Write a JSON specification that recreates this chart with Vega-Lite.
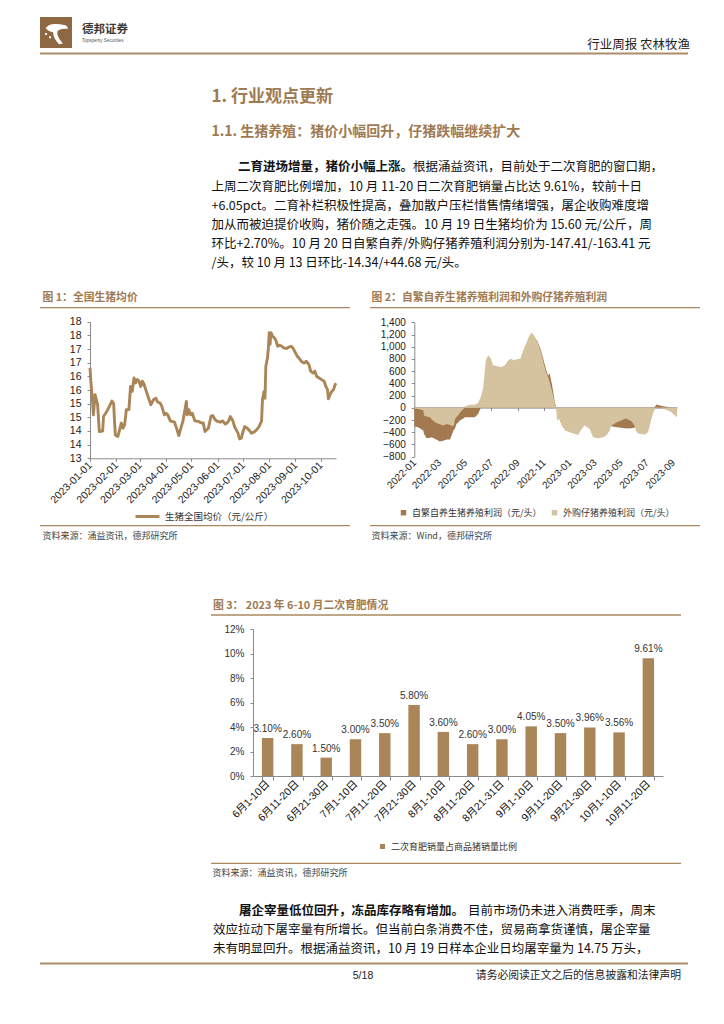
{
"$schema":"https://vega.github.io/schema/vega-lite/v6.json",
"width":724,"height":1024,"padding":0,"autosize":{"type":"none"},
"background":"#ffffff",
"config":{
 "view":{"stroke":null},
 "axis":{"grid":false,"domainColor":"#8a8a8a","tickColor":"#8a8a8a","labelColor":"#222222","labelFont":"Liberation Sans","labelFontSize":10,"tickSize":3},
 "legend":{"labelFont":"Noto Sans CJK SC","labelFontSize":9,"labelColor":"#333333","padding":0},
 "text":{"font":"Noto Sans CJK SC"}
},
"layer":[
 {"data":{"values":[{"k":"logo"}]},"mark":{"type":"rect","color":"#8E6843"},
  "encoding":{"x":{"datum":0,"type":"quantitative","scale":{"domain":[0,1],"range":[40,72]},"axis":null},"x2":{"datum":1},
   "y":{"datum":0,"type":"quantitative","scale":{"domain":[0,1],"range":[17,48]},"axis":null},"y2":{"datum":1}}},
 {"data":{"values":[{"k":"logo"}]},"mark":{"type":"point","filled":true,"color":"#ffffff","opacity":1,"size":700,"shape":"M-0.85,-0.35 C-0.7,-0.7 -0.1,-0.75 0.55,-0.6 C0.75,-0.55 0.85,-0.45 0.8,-0.3 C0.5,-0.35 0.2,-0.3 0.05,-0.15 C-0.05,0.05 0.1,0.4 0.45,0.8 L0.15,0.85 C-0.15,0.55 -0.3,0.2 -0.3,-0.05 C-0.5,-0.1 -0.7,-0.15 -0.85,-0.35 Z M-0.9,0.0 L-0.75,0.0 L-0.75,0.15 L-0.9,0.15 Z M-0.6,0.25 L-0.45,0.25 L-0.45,0.4 L-0.6,0.4 Z"},
  "encoding":{"x":{"datum":0,"type":"quantitative","scale":{"domain":[0,1],"range":[57,58]},"axis":null},
   "y":{"datum":0,"type":"quantitative","scale":{"domain":[0,1],"range":[33,34]},"axis":null}}},
 {"data":{"values":[{"t":"德邦证券"}]},"mark":{"type":"text","align":"left","baseline":"middle","fontSize":11.5,"fontWeight":"bold","color":"#3a3a3a"},
  "encoding":{"text":{"field":"t"},"x":{"datum":0,"type":"quantitative","scale":{"domain":[0,1],"range":[82,83]},"axis":null},
   "y":{"datum":0,"type":"quantitative","scale":{"domain":[0,1],"range":[30,31]},"axis":null}}},
 {"data":{"values":[{"t":"Topsperity Securities"}]},"mark":{"type":"text","align":"left","baseline":"middle","fontSize":4.5,"font":"Liberation Sans","color":"#555555"},
  "encoding":{"text":{"field":"t"},"x":{"datum":0,"type":"quantitative","scale":{"domain":[0,1],"range":[82,83]},"axis":null},
   "y":{"datum":0,"type":"quantitative","scale":{"domain":[0,1],"range":[40.5,41.5]},"axis":null}}},
 {"data":{"values":[{"t":"行业周报  农林牧渔"}]},"mark":{"type":"text","align":"right","baseline":"middle","fontSize":12.5,"color":"#222222"},
  "encoding":{"text":{"field":"t"},"x":{"datum":0,"type":"quantitative","scale":{"domain":[0,1],"range":[690,691]},"axis":null},
   "y":{"datum":0,"type":"quantitative","scale":{"domain":[0,1],"range":[45,46]},"axis":null}}},
 {"data":{"values":[{"edge":"header"},{"edge":"footer"}]},"mark":{"type":"rule","color":"#AD8C68","strokeWidth":2},
  "encoding":{"x":{"datum":0,"type":"quantitative","scale":{"domain":[0,1],"range":[40,688]},"axis":null},"x2":{"datum":1},
   "y":{"field":"edge","type":"ordinal","sort":null,"scale":{"type":"point","range":[53.5,963.5],"padding":0},"axis":null}}},
 {"data":{"values":[{"t":"1. 行业观点更新"}]},"mark":{"type":"text","align":"left","baseline":"middle","fontSize":17,"fontWeight":"bold","color":"#A07A52"},
  "encoding":{"text":{"field":"t"},"x":{"datum":0,"type":"quantitative","scale":{"domain":[0,1],"range":[211.5,212.5]},"axis":null},
   "y":{"datum":0,"type":"quantitative","scale":{"domain":[0,1],"range":[96.5,97.5]},"axis":null}}},
 {"data":{"values":[{"t":"1.1. 生猪养殖：猪价小幅回升，仔猪跌幅继续扩大"}]},"mark":{"type":"text","align":"left","baseline":"middle","fontSize":14,"fontWeight":"bold","color":"#A07A52"},
  "encoding":{"text":{"field":"t"},"x":{"datum":0,"type":"quantitative","scale":{"domain":[0,1],"range":[211.5,212.5]},"axis":null},
   "y":{"datum":0,"type":"quantitative","scale":{"domain":[0,1],"range":[131.5,132.5]},"axis":null}}},
 {"data":{"values":[{"t":"二育进场增量，猪价小幅上涨。"}]},"mark":{"type":"text","align":"left","baseline":"middle","fontSize":12.5,"fontWeight":"bold","color":"#111111"},
  "encoding":{"text":{"field":"t"},"x":{"datum":0,"type":"quantitative","scale":{"domain":[0,1],"range":[238,239]},"axis":null},
   "y":{"datum":0,"type":"quantitative","scale":{"domain":[0,1],"range":[167.3,168.3]},"axis":null}}},
 {"data":{"values":[{"t":"根据涌益资讯，目前处于二次育肥的窗口期，"}]},"mark":{"type":"text","align":"left","baseline":"middle","fontSize":12.5,"color":"#111111"},
  "encoding":{"text":{"field":"t"},"x":{"datum":0,"type":"quantitative","scale":{"domain":[0,1],"range":[413,414]},"axis":null},
   "y":{"datum":0,"type":"quantitative","scale":{"domain":[0,1],"range":[167.3,168.3]},"axis":null}}},
 {"data":{"values":[
   {"line":2,"t":"上周二次育肥比例增加，10 月 11-20 日二次育肥销量占比达 9.61%，较前十日"},
   {"line":3,"t":"+6.05pct。二育补栏积极性提高，叠加散户压栏惜售情绪增强，屠企收购难度增"},
   {"line":4,"t":"加从而被迫提价收购，猪价随之走强。10 月 19 日生猪均价为 15.60 元/公斤，周"},
   {"line":5,"t":"环比+2.70%。10 月 20 日自繁自养/外购仔猪养殖利润分别为-147.41/-163.41 元"},
   {"line":6,"t":"/头，较 10 月 13 日环比-14.34/+44.68 元/头。"}]},
  "mark":{"type":"text","align":"left","baseline":"middle","fontSize":12.5,"color":"#111111"},
  "encoding":{"text":{"field":"t"},"x":{"datum":0,"type":"quantitative","scale":{"domain":[0,1],"range":[211.5,212.5]},"axis":null},
   "y":{"field":"line","type":"ordinal","scale":{"type":"point","range":[186.7,263.3],"padding":0},"axis":null}}},
 {"data":{"values":[{"t":"图 1：全国生猪均价"}]},"mark":{"type":"text","align":"left","baseline":"middle","fontSize":10.8,"fontWeight":"bold","color":"#A07A52"},
  "encoding":{"text":{"field":"t"},"x":{"datum":0,"type":"quantitative","scale":{"domain":[0,1],"range":[42.5,43.5]},"axis":null},
   "y":{"datum":0,"type":"quantitative","scale":{"domain":[0,1],"range":[297.5,298.5]},"axis":null}}},
 {"data":{"values":[{"edge":"top"},{"edge":"bottom"}]},"mark":{"type":"rule","color":"#A8885F","strokeWidth":1.3},
  "encoding":{"x":{"datum":0,"type":"quantitative","scale":{"domain":[0,1],"range":[40,350]},"axis":null},"x2":{"datum":1},
   "y":{"field":"edge","type":"ordinal","sort":null,"scale":{"type":"point","range":[307.7,525.7],"padding":0},"axis":null}}},
 {"data":{"values":[{"t":"资料来源：涌益资讯，德邦研究所"}]},"mark":{"type":"text","align":"left","baseline":"middle","fontSize":9,"color":"#444444"},
  "encoding":{"text":{"field":"t"},"x":{"datum":0,"type":"quantitative","scale":{"domain":[0,1],"range":[42.5,43.5]},"axis":null},
   "y":{"datum":0,"type":"quantitative","scale":{"domain":[0,1],"range":[535.7,536.7]},"axis":null}}},
 {"data":{"values":[{"t":"图 2：自繁自养生猪养殖利润和外购仔猪养殖利润"}]},"mark":{"type":"text","align":"left","baseline":"middle","fontSize":10.8,"fontWeight":"bold","color":"#A07A52"},
  "encoding":{"text":{"field":"t"},"x":{"datum":0,"type":"quantitative","scale":{"domain":[0,1],"range":[371.5,372.5]},"axis":null},
   "y":{"datum":0,"type":"quantitative","scale":{"domain":[0,1],"range":[297.5,298.5]},"axis":null}}},
 {"data":{"values":[{"edge":"top"},{"edge":"bottom"}]},"mark":{"type":"rule","color":"#A8885F","strokeWidth":1.3},
  "encoding":{"x":{"datum":0,"type":"quantitative","scale":{"domain":[0,1],"range":[370,700]},"axis":null},"x2":{"datum":1},
   "y":{"field":"edge","type":"ordinal","sort":null,"scale":{"type":"point","range":[307.7,525.7],"padding":0},"axis":null}}},
 {"data":{"values":[{"t":"资料来源：Wind，德邦研究所"}]},"mark":{"type":"text","align":"left","baseline":"middle","fontSize":9,"color":"#444444"},
  "encoding":{"text":{"field":"t"},"x":{"datum":0,"type":"quantitative","scale":{"domain":[0,1],"range":[371.5,372.5]},"axis":null},
   "y":{"datum":0,"type":"quantitative","scale":{"domain":[0,1],"range":[535.7,536.7]},"axis":null}}},
 {"data":{"values":[{"t":"图 3：  2023 年 6-10 月二次育肥情况"}]},"mark":{"type":"text","align":"left","baseline":"middle","fontSize":10.8,"fontWeight":"bold","color":"#A07A52"},
  "encoding":{"text":{"field":"t"},"x":{"datum":0,"type":"quantitative","scale":{"domain":[0,1],"range":[213,214]},"axis":null},
   "y":{"datum":0,"type":"quantitative","scale":{"domain":[0,1],"range":[605.5,606.5]},"axis":null}}},
 {"data":{"values":[{"edge":"top"},{"edge":"bottom"}]},"mark":{"type":"rule","color":"#A8885F","strokeWidth":1.3},
  "encoding":{"x":{"datum":0,"type":"quantitative","scale":{"domain":[0,1],"range":[211,681]},"axis":null},"x2":{"datum":1},
   "y":{"field":"edge","type":"ordinal","sort":null,"scale":{"type":"point","range":[615,863.3],"padding":0},"axis":null}}},
 {"data":{"values":[{"t":"资料来源：涌益资讯，德邦研究所"}]},"mark":{"type":"text","align":"left","baseline":"middle","fontSize":9,"color":"#444444"},
  "encoding":{"text":{"field":"t"},"x":{"datum":0,"type":"quantitative","scale":{"domain":[0,1],"range":[212.5,213.5]},"axis":null},
   "y":{"datum":0,"type":"quantitative","scale":{"domain":[0,1],"range":[873.3,874.3]},"axis":null}}},
 {"data":{"values":[{"t":"屠企宰量低位回升，冻品库存略有增加。"}]},"mark":{"type":"text","align":"left","baseline":"middle","fontSize":12.5,"fontWeight":"bold","color":"#111111"},
  "encoding":{"text":{"field":"t"},"x":{"datum":0,"type":"quantitative","scale":{"domain":[0,1],"range":[239,240]},"axis":null},
   "y":{"datum":0,"type":"quantitative","scale":{"domain":[0,1],"range":[910.7,911.7]},"axis":null}}},
 {"data":{"values":[{"t":"目前市场仍未进入消费旺季，周末"}]},"mark":{"type":"text","align":"left","baseline":"middle","fontSize":12.5,"color":"#111111"},
  "encoding":{"text":{"field":"t"},"x":{"datum":0,"type":"quantitative","scale":{"domain":[0,1],"range":[468,469]},"axis":null},
   "y":{"datum":0,"type":"quantitative","scale":{"domain":[0,1],"range":[910.7,911.7]},"axis":null}}},
 {"data":{"values":[
   {"line":2,"t":"效应拉动下屠宰量有所增长。但当前白条消费不佳，贸易商拿货谨慎，屠企宰量"},
   {"line":3,"t":"未有明显回升。根据涌益资讯，10 月 19 日样本企业日均屠宰量为 14.75 万头，"}]},
  "mark":{"type":"text","align":"left","baseline":"middle","fontSize":12.5,"color":"#111111"},
  "encoding":{"text":{"field":"t"},"x":{"datum":0,"type":"quantitative","scale":{"domain":[0,1],"range":[213,214]},"axis":null},
   "y":{"field":"line","type":"ordinal","scale":{"type":"point","range":[930,949.3],"padding":0},"axis":null}}},
 {"data":{"values":[{"t":"5/18"}]},"mark":{"type":"text","align":"center","baseline":"middle","fontSize":10.5,"font":"Liberation Sans","color":"#222222"},
  "encoding":{"text":{"field":"t"},"x":{"datum":0,"type":"quantitative","scale":{"domain":[0,1],"range":[363,364]},"axis":null},
   "y":{"datum":0,"type":"quantitative","scale":{"domain":[0,1],"range":[975.7,976.7]},"axis":null}}},
 {"data":{"values":[{"t":"请务必阅读正文之后的信息披露和法律声明"}]},"mark":{"type":"text","align":"right","baseline":"middle","fontSize":10.8,"color":"#222222"},
  "encoding":{"text":{"field":"t"},"x":{"datum":0,"type":"quantitative","scale":{"domain":[0,1],"range":[681,682]},"axis":null},
   "y":{"datum":0,"type":"quantitative","scale":{"domain":[0,1],"range":[975.7,976.7]},"axis":null}}},
 {"data":{"values":[
  {"date":"2023-01-01","price":16.31},{"date":"2023-01-02","price":15.82},{"date":"2023-01-04","price":15.08},{"date":"2023-01-05","price":14.59},
  {"date":"2023-01-07","price":15.33},{"date":"2023-01-08","price":15.2},{"date":"2023-01-10","price":14.96},{"date":"2023-01-12","price":13.98},
  {"date":"2023-01-16","price":14.0},{"date":"2023-01-17","price":14.53},{"date":"2023-01-21","price":14.72},{"date":"2023-01-27","price":15.1},
  {"date":"2023-01-29","price":15.0},{"date":"2023-01-30","price":14.35},{"date":"2023-01-31","price":13.86},{"date":"2023-02-01","price":13.83},
  {"date":"2023-02-03","price":13.8},{"date":"2023-02-05","price":14.04},{"date":"2023-02-07","price":14.29},{"date":"2023-02-09","price":14.1},
  {"date":"2023-02-11","price":14.23},{"date":"2023-02-13","price":14.78},{"date":"2023-02-16","price":14.78},{"date":"2023-02-18","price":15.63},
  {"date":"2023-02-20","price":15.45},{"date":"2023-02-22","price":15.94},{"date":"2023-02-24","price":15.76},{"date":"2023-02-26","price":15.88},
  {"date":"2023-02-28","price":15.82},{"date":"2023-03-02","price":15.63},{"date":"2023-03-04","price":15.82},{"date":"2023-03-06","price":15.7},
  {"date":"2023-03-08","price":15.51},{"date":"2023-03-11","price":15.23},{"date":"2023-03-14","price":14.96},{"date":"2023-03-17","price":15.14},
  {"date":"2023-03-20","price":15.2},{"date":"2023-03-22","price":15.06},{"date":"2023-03-25","price":15.02},{"date":"2023-03-27","price":14.9},
  {"date":"2023-03-30","price":14.59},{"date":"2023-04-01","price":14.65},{"date":"2023-04-03","price":14.59},{"date":"2023-04-06","price":14.37},
  {"date":"2023-04-08","price":14.35},{"date":"2023-04-11","price":14.32},{"date":"2023-04-14","price":14.04},{"date":"2023-04-16","price":13.83},
  {"date":"2023-04-19","price":14.16},{"date":"2023-04-21","price":14.37},{"date":"2023-04-23","price":14.72},{"date":"2023-04-25","price":15.08},
  {"date":"2023-04-26","price":14.59},{"date":"2023-04-28","price":14.78},{"date":"2023-04-30","price":14.59},{"date":"2023-05-02","price":14.65},
  {"date":"2023-05-05","price":14.37},{"date":"2023-05-09","price":14.35},{"date":"2023-05-13","price":14.29},{"date":"2023-05-15","price":14.29},
  {"date":"2023-05-17","price":13.98},{"date":"2023-05-21","price":14.1},{"date":"2023-05-22","price":14.23},{"date":"2023-05-24","price":14.53},
  {"date":"2023-05-26","price":14.57},{"date":"2023-05-29","price":14.41},{"date":"2023-06-01","price":14.35},{"date":"2023-06-04","price":14.32},
  {"date":"2023-06-07","price":14.37},{"date":"2023-06-10","price":14.25},{"date":"2023-06-12","price":14.29},{"date":"2023-06-14","price":14.37},
  {"date":"2023-06-16","price":14.53},{"date":"2023-06-19","price":14.37},{"date":"2023-06-21","price":14.16},{"date":"2023-06-23","price":14.04},
  {"date":"2023-06-25","price":13.92},{"date":"2023-06-27","price":13.71},{"date":"2023-06-29","price":13.74},{"date":"2023-07-01","price":13.98},
  {"date":"2023-07-03","price":14.16},{"date":"2023-07-06","price":14.1},{"date":"2023-07-08","price":14.04},{"date":"2023-07-11","price":13.92},
  {"date":"2023-07-14","price":13.96},{"date":"2023-07-17","price":14.04},{"date":"2023-07-20","price":14.16},{"date":"2023-07-23","price":14.37},
  {"date":"2023-07-24","price":15.14},{"date":"2023-07-26","price":15.45},{"date":"2023-07-27","price":15.2},{"date":"2023-07-28","price":16.37},
  {"date":"2023-07-30","price":16.68},{"date":"2023-07-31","price":17.04},{"date":"2023-08-01","price":17.6},{"date":"2023-08-02","price":17.17},
  {"date":"2023-08-03","price":17.6},{"date":"2023-08-05","price":17.47},{"date":"2023-08-07","price":17.41},{"date":"2023-08-09","price":17.31},
  {"date":"2023-08-11","price":17.1},{"date":"2023-08-13","price":17.14},{"date":"2023-08-16","price":17.1},{"date":"2023-08-18","price":17.04},
  {"date":"2023-08-22","price":17.02},{"date":"2023-08-24","price":17.07},{"date":"2023-08-27","price":17.1},{"date":"2023-08-29","price":17.04},
  {"date":"2023-08-31","price":16.92},{"date":"2023-09-03","price":16.74},{"date":"2023-09-05","price":16.68},{"date":"2023-09-08","price":16.55},
  {"date":"2023-09-11","price":16.49},{"date":"2023-09-14","price":16.55},{"date":"2023-09-17","price":16.43},{"date":"2023-09-19","price":16.19},
  {"date":"2023-09-22","price":16.12},{"date":"2023-09-24","price":16.19},{"date":"2023-09-26","price":16.0},{"date":"2023-09-29","price":15.94},
  {"date":"2023-10-02","price":15.88},{"date":"2023-10-05","price":15.82},{"date":"2023-10-07","price":15.63},{"date":"2023-10-09","price":15.51},
  {"date":"2023-10-10","price":15.18},{"date":"2023-10-12","price":15.33},{"date":"2023-10-14","price":15.45},{"date":"2023-10-16","price":15.51},
  {"date":"2023-10-18","price":15.7},{"date":"2023-10-19","price":15.75}]},
  "mark":{"type":"line","strokeWidth":2.9,"strokeJoin":"round"},
  "encoding":{
   "x":{"field":"date","type":"temporal","title":null,
    "scale":{"type":"utc","domain":[{"year":2023,"month":1,"date":1,"utc":true},{"year":2023,"month":10,"date":19,"utc":true}],"range":[90,336],"nice":false},
    "axis":{"orient":"bottom","offset":-565.7,"format":"%Y-%m-%d","labelAngle":-45,"labelAlign":"right","labelBaseline":"middle","labelPadding":2,"labelOverlap":false,"labelFontSize":10.5,
     "values":[{"year":2023,"month":1,"date":1,"utc":true},{"year":2023,"month":2,"date":1,"utc":true},{"year":2023,"month":3,"date":1,"utc":true},{"year":2023,"month":4,"date":1,"utc":true},{"year":2023,"month":5,"date":1,"utc":true},{"year":2023,"month":6,"date":1,"utc":true},{"year":2023,"month":7,"date":1,"utc":true},{"year":2023,"month":8,"date":1,"utc":true},{"year":2023,"month":9,"date":1,"utc":true},{"year":2023,"month":10,"date":1,"utc":true}]}},
   "y":{"field":"price","type":"quantitative","title":null,"scale":{"domain":[13,18],"range":[458.3,321.7],"nice":false,"zero":false},
    "axis":{"orient":"left","offset":-90,"values":[13,13.5,14,14.5,15,15.5,16,16.5,17,17.5,18],"format":".0f","labelFontSize":10.5,"labelPadding":6}},
   "color":{"datum":"生猪全国均价（元/公斤）","scale":{"range":["#A98557"]},
    "legend":{"title":null,"orient":"none","legendX":134,"legendY":503,"symbolType":"stroke","symbolSize":576,"symbolStrokeWidth":3,"labelOffset":4,"labelFontSize":9.5}}}},
 {"data":{"values":[
  {"date":"2022-01-01","self":-307,"bought":-10},{"date":"2022-01-10","self":-318,"bought":-20},{"date":"2022-01-22","self":-373,"bought":-40},
  {"date":"2022-01-24","self":-430,"bought":-126},{"date":"2022-01-30","self":-499,"bought":-140},{"date":"2022-02-07","self":-490,"bought":-153},
  {"date":"2022-02-11","self":-482,"bought":-190},{"date":"2022-02-19","self":-510,"bought":-236},{"date":"2022-02-27","self":-540,"bought":-263},
  {"date":"2022-03-02","self":-553,"bought":-270},{"date":"2022-03-10","self":-537,"bought":-290},{"date":"2022-03-18","self":-520,"bought":-263},
  {"date":"2022-03-26","self":-520,"bought":-280},{"date":"2022-04-03","self":-373,"bought":-300},{"date":"2022-04-07","self":-330,"bought":-180},
  {"date":"2022-04-10","self":-263,"bought":-150},{"date":"2022-04-14","self":-240,"bought":-120},{"date":"2022-04-18","self":-208,"bought":-80},
  {"date":"2022-04-27","self":-170,"bought":-16},{"date":"2022-04-30","self":-153,"bought":27},{"date":"2022-05-12","self":-153,"bought":49},
  {"date":"2022-05-23","self":-153,"bought":49},{"date":"2022-05-31","self":-99,"bought":82},{"date":"2022-06-06","self":0,"bought":175},
  {"date":"2022-06-12","self":200,"bought":340},{"date":"2022-06-18","self":650,"bought":778},{"date":"2022-06-24","self":780,"bought":860},
  {"date":"2022-06-30","self":740,"bought":805},{"date":"2022-07-05","self":640,"bought":696},{"date":"2022-07-13","self":630,"bought":685},
  {"date":"2022-07-25","self":610,"bought":668},{"date":"2022-08-02","self":640,"bought":696},{"date":"2022-08-10","self":720,"bought":778},
  {"date":"2022-08-16","self":750,"bought":805},{"date":"2022-08-22","self":720,"bought":778},{"date":"2022-08-30","self":740,"bought":794},
  {"date":"2022-09-07","self":750,"bought":805},{"date":"2022-09-11","self":840,"bought":888},{"date":"2022-09-19","self":980,"bought":1025},
  {"date":"2022-09-27","self":1120,"bought":1162},{"date":"2022-10-03","self":1200,"bought":1233},{"date":"2022-10-09","self":1170,"bought":1189},
  {"date":"2022-10-17","self":1090,"bought":1080},{"date":"2022-10-25","self":960,"bought":930},{"date":"2022-10-31","self":800,"bought":750},
  {"date":"2022-11-06","self":640,"bought":586},{"date":"2022-11-11","self":530,"bought":504},{"date":"2022-11-15","self":560,"bought":420},
  {"date":"2022-11-21","self":360,"bought":258},{"date":"2022-11-27","self":93,"bought":66},{"date":"2022-12-01","self":0,"bought":0},
  {"date":"2022-12-02","self":-100,"bought":-208},{"date":"2022-12-07","self":-150,"bought":-180},{"date":"2022-12-13","self":-200,"bought":-290},
  {"date":"2022-12-21","self":-250,"bought":-373},{"date":"2023-01-01","self":-280,"bought":-400},{"date":"2023-01-13","self":-300,"bought":-427},
  {"date":"2023-01-21","self":-300,"bought":-444},{"date":"2023-01-29","self":-260,"bought":-345},{"date":"2023-02-05","self":-220,"bought":-290},
  {"date":"2023-02-17","self":-260,"bought":-345},{"date":"2023-02-25","self":-330,"bought":-482},{"date":"2023-03-09","self":-350,"bought":-499},
  {"date":"2023-03-21","self":-340,"bought":-482},{"date":"2023-03-28","self":-330,"bought":-455},{"date":"2023-04-05","self":-310,"bought":-373},
  {"date":"2023-04-09","self":-300,"bought":-290},{"date":"2023-04-21","self":-318,"bought":-240},{"date":"2023-05-07","self":-330,"bought":-190},
  {"date":"2023-05-14","self":-338,"bought":-175},{"date":"2023-05-26","self":-335,"bought":-220},{"date":"2023-06-03","self":-320,"bought":-300},
  {"date":"2023-06-07","self":-310,"bought":-400},{"date":"2023-06-15","self":-300,"bought":-427},{"date":"2023-06-26","self":-290,"bought":-435},
  {"date":"2023-07-04","self":-250,"bought":-400},{"date":"2023-07-12","self":-120,"bought":-180},{"date":"2023-07-18","self":0,"bought":-44},
  {"date":"2023-07-24","self":55,"bought":10},{"date":"2023-08-01","self":40,"bought":0},{"date":"2023-08-08","self":25,"bought":-16},
  {"date":"2023-08-20","self":15,"bought":-44},{"date":"2023-08-28","self":-30,"bought":-71},{"date":"2023-09-05","self":-70,"bought":-126},
  {"date":"2023-09-10","self":-90,"bought":-153}]},
  "layer":[
   {"mark":{"type":"area"},
    "encoding":{
     "x":{"field":"date","type":"temporal","title":null,
      "scale":{"type":"utc","domain":[{"year":2022,"month":1,"date":1,"utc":true},{"year":2023,"month":9,"date":10,"utc":true}],"range":[414.3,677],"nice":false},
      "axis":{"orient":"bottom","offset":-616.5,"labels":false,"tickSize":3,"domainColor":"#777777",
       "values":[{"year":2022,"month":1,"date":1,"utc":true},{"year":2022,"month":3,"date":1,"utc":true},{"year":2022,"month":5,"date":1,"utc":true},{"year":2022,"month":7,"date":1,"utc":true},{"year":2022,"month":9,"date":1,"utc":true},{"year":2022,"month":11,"date":1,"utc":true},{"year":2023,"month":1,"date":1,"utc":true},{"year":2023,"month":3,"date":1,"utc":true},{"year":2023,"month":5,"date":1,"utc":true},{"year":2023,"month":7,"date":1,"utc":true},{"year":2023,"month":9,"date":1,"utc":true}]}},
     "y":{"field":"self","type":"quantitative","title":null,"scale":{"domain":[-800,1400],"range":[456.7,322.3],"nice":false},
      "axis":{"orient":"left","offset":-414.3,"values":[-800,-600,-400,-200,0,200,400,600,800,1000,1200,1400],"format":",.0f","labelFontSize":10,"labelPadding":6}},
     "color":{"datum":"自繁自养生猪养殖利润（元/头）","scale":{"domain":["自繁自养生猪养殖利润（元/头）","外购仔猪养殖利润（元/头）"],"range":["#A37A50","#D5C29E"]},
      "legend":{"title":null,"orient":"none","direction":"horizontal","legendX":399,"legendY":508,"symbolType":"square","symbolSize":30,"labelOffset":4,"columnPadding":8,"labelFontSize":9}}}},
   {"mark":{"type":"area"},
    "encoding":{
     "x":{"field":"date","type":"temporal","title":null,
      "axis":{"orient":"bottom","offset":-567.3,"format":"%Y-%m","labelAngle":-45,"labelAlign":"right","labelBaseline":"middle","domain":false,"ticks":false,"tickSize":0,"labelPadding":4,"labelOverlap":false,"labelFontSize":10,
       "values":[{"year":2022,"month":1,"date":1,"utc":true},{"year":2022,"month":3,"date":1,"utc":true},{"year":2022,"month":5,"date":1,"utc":true},{"year":2022,"month":7,"date":1,"utc":true},{"year":2022,"month":9,"date":1,"utc":true},{"year":2022,"month":11,"date":1,"utc":true},{"year":2023,"month":1,"date":1,"utc":true},{"year":2023,"month":3,"date":1,"utc":true},{"year":2023,"month":5,"date":1,"utc":true},{"year":2023,"month":7,"date":1,"utc":true},{"year":2023,"month":9,"date":1,"utc":true}]}},
     "y":{"field":"bought","type":"quantitative","title":null},
     "color":{"datum":"外购仔猪养殖利润（元/头）"}}}
  ],
  "resolve":{"axis":{"x":"independent"}}},
 {"data":{"values":[
  {"period":"6月1-10日","ratio":0.031},{"period":"6月11-20日","ratio":0.026},{"period":"6月21-30日","ratio":0.015},
  {"period":"7月1-10日","ratio":0.030},{"period":"7月11-20日","ratio":0.035},{"period":"7月21-30日","ratio":0.058},
  {"period":"8月1-10日","ratio":0.036},{"period":"8月11-20日","ratio":0.026},{"period":"8月21-31日","ratio":0.030},
  {"period":"9月1-10日","ratio":0.0405},{"period":"9月11-20日","ratio":0.035},{"period":"9月21-30日","ratio":0.0396},
  {"period":"10月1-10日","ratio":0.0356},{"period":"10月11-20日","ratio":0.0961}]},
  "layer":[
   {"mark":{"type":"bar"},
    "encoding":{
     "x":{"field":"period","type":"nominal","sort":null,"title":null,"scale":{"range":[253,663],"paddingInner":0.61,"paddingOuter":0.305},
      "axis":{"orient":"bottom","offset":-248,"labelAngle":-45,"labelAlign":"right","labelBaseline":"middle","labelFont":"Liberation Sans, Noto Sans CJK SC","labelFontSize":10.5,"labelColor":"#111111","tickBand":"extent","tickSize":4,"labelPadding":2,"labelOverlap":false}},
     "y":{"field":"ratio","type":"quantitative","title":null,"scale":{"domain":[0,0.12],"range":[776,629],"nice":false},
      "axis":{"orient":"left","offset":-253,"values":[0,0.02,0.04,0.06,0.08,0.1,0.12],"format":".0%","labelFontSize":10,"labelPadding":6,"labelColor":"#333333"}},
     "color":{"datum":"二次育肥销量占商品猪销量比例","scale":{"range":["#A98557"]},
      "legend":{"title":null,"orient":"none","legendX":378,"legendY":842,"symbolType":"square","symbolSize":25,"labelOffset":4,"labelFontSize":9}}}},
   {"mark":{"type":"text","baseline":"bottom","dy":-4,"font":"Liberation Sans","fontSize":10,"color":"#333333"},
    "encoding":{
     "x":{"field":"period","type":"nominal","sort":null,"title":null},
     "y":{"field":"ratio","type":"quantitative","title":null},
     "text":{"field":"ratio","type":"quantitative","format":".2%"}}}
  ]}
],
"resolve":{"scale":{"x":"independent","y":"independent","color":"independent"},"axis":{"x":"independent","y":"independent"},"legend":{"color":"independent"}}
}
